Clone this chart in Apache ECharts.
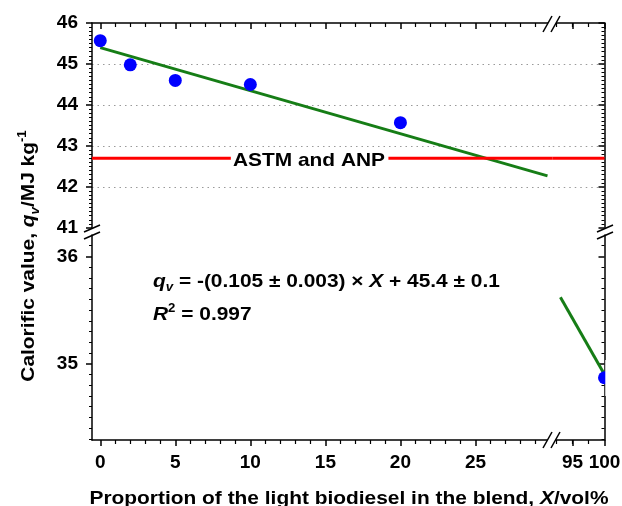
<!DOCTYPE html>
<html>
<head>
<meta charset="utf-8">
<script src="https://cdn.jsdelivr.net/npm/echarts@6/dist/echarts.min.js"></script>
<style>
html, body { margin: 0; padding: 0; background: #fff; }
#chart { width: 622px; height: 506px; }
</style>
</head>
<body>
<div id="chart"></div>
<script>
// measured blends (vol% of light biodiesel) and calorific values
var blendX = [0, 2, 5, 10, 20, 100];
var calorific = [45.57, 44.98, 44.6, 44.5, 43.57, 34.87];
// end points of the linear fit as drawn in each panel
var fitX = [0, 29.8, 93.1, 100];
var fitY = [45.4, 42.27, 35.62, 34.9];
// ASTM / ANP limit and where its label interrupts it
var astmValue = 42.7;
var astmGap = [8.7, 19.2];
// ticks
var xLeftTicks = [0, 5, 10, 15, 20, 25];
var xRightTicks = [95, 100];
var yTopTicks = [41, 42, 43, 44, 45, 46];
var yBottomTicks = [35, 36];
// axis ranges of the broken panels
var xLeftRange = [-0.55, 30.15];
var xRightRange = [91.9, 100];
var yTopRange = [41, 46];
var yBottomRange = [34.29, 36.2];

var FONT = "'Liberation Sans', Arial, sans-serif";
var STRETCH = 1.1;
var chart = echarts.init(document.getElementById('chart'), null, { renderer: 'canvas' });

function xAxisOf(grid, pos, range, ticks, minorSplit, splitNumber) {
    var inside = pos === 'top';
    return {
        type: 'value', gridIndex: grid, position: pos,
        min: range[0], max: range[1], splitNumber: splitNumber,
        axisLine: { show: true, onZero: false, lineStyle: { color: '#000', width: 1.5 } },
        axisTick: { show: true, inside: inside, length: 6, customValues: ticks, lineStyle: { color: '#000', width: 1.5 } },
        minorTick: { show: true, splitNumber: minorSplit, length: 4, lineStyle: { color: '#000', width: 1.2 } },
        axisLabel: {
            show: !inside, customValues: ticks, margin: 13,
            color: '#000', fontSize: 19, fontWeight: 'bold', fontFamily: FONT
        },
        splitLine: { show: false }
    };
}

function yAxisOf(grid, pos, range, ticks, splitNumber) {
    var inside = pos === 'right';
    return {
        type: 'value', gridIndex: grid, position: pos,
        min: range[0], max: range[1], splitNumber: splitNumber,
        axisLine: { show: true, onZero: false, lineStyle: { color: '#000', width: 1.5 } },
        axisTick: { show: true, inside: inside, length: 6, customValues: ticks, lineStyle: { color: '#000', width: 1.5 } },
        minorTick: { show: true, splitNumber: 10, length: 3, lineStyle: { color: '#000', width: 1 } },
        axisLabel: {
            show: !inside, customValues: ticks, margin: 14,
            color: '#000', fontSize: 19, fontWeight: 'bold', fontFamily: FONT
        },
        splitLine: {
            show: true, showMinLine: false, showMaxLine: false,
            lineStyle: { color: '#9a9a9a', width: 1.2, type: [1.5, 4] }
        }
    };
}

function pick(xs, ys, test) {
    var out = [];
    for (var i = 0; i < xs.length; i++) {
        if (test(xs[i], ys[i])) out.push([xs[i], ys[i]]);
    }
    return out;
}

function dots(idx, data) {
    return {
        type: 'scatter', xAxisIndex: idx, yAxisIndex: idx, data: data,
        symbol: 'circle', symbolSize: 13, itemStyle: { color: '#0000ff', opacity: 1 }, z: 5, clip: true
    };
}

function line(idx, data, color, width) {
    return {
        type: 'line', xAxisIndex: idx, yAxisIndex: idx, data: data,
        symbol: 'none', showSymbol: false, clip: true,
        lineStyle: { color: color, width: width }, z: 4
    };
}

// rich text styles shared by the titles and the fit equation
function richStyles(size) {
    var base = { fontSize: size, fontWeight: 'bold', fontFamily: FONT, lineHeight: size + 6, fill: '#000' };
    return {
        b: base,
        i: echarts.util.extend({ fontStyle: 'italic' }, base),
        sub: { fontSize: 12, fontWeight: 'bold', fontStyle: 'italic', fontFamily: FONT, verticalAlign: 'bottom', lineHeight: 12, fill: '#000' },
        sup: { fontSize: 12, fontWeight: 'bold', fontFamily: FONT, verticalAlign: 'top', lineHeight: 12, fill: '#000' }
    };
}

function breakMark(x1, y1, x2, y2) {
    return { type: 'line', shape: { x1: x1, y1: y1, x2: x2, y2: y2 }, style: { stroke: '#000', lineWidth: 1.5 }, z: 12 };
}

// white band between the two strokes of a break mark
function breakGap(points) {
    return { type: 'polygon', shape: { points: points }, style: { fill: '#fff' }, z: 11 };
}

var GREEN = '#167d16';
var RED = '#ff0000';
var topPoint = function (x, y) { return y >= yTopRange[0] && x <= xLeftRange[1]; };
var bottomPoint = function (x, y) { return y <= yBottomRange[1] && x >= xRightRange[0]; };

var option = {
    backgroundColor: '#ffffff',
    animation: false,
    grid: [
        { left: 92, top: 23, width: 460.75, height: 205, containLabel: false, outerBoundsMode: 'none' },
        { left: 552.75, top: 23, width: 51.75, height: 205, containLabel: false, outerBoundsMode: 'none' },
        { left: 92, top: 235, width: 460.75, height: 205, containLabel: false, outerBoundsMode: 'none' },
        { left: 552.75, top: 235, width: 51.75, height: 205, containLabel: false, outerBoundsMode: 'none' }
    ],
    xAxis: [
        xAxisOf(0, 'top', xLeftRange, xLeftTicks, 5, 6),
        xAxisOf(1, 'top', xRightRange, xRightTicks, 4, 1),
        xAxisOf(2, 'bottom', xLeftRange, xLeftTicks, 5, 6),
        xAxisOf(3, 'bottom', xRightRange, xRightTicks, 4, 1)
    ],
    yAxis: [
        yAxisOf(0, 'left', yTopRange, yTopTicks, 5),
        yAxisOf(1, 'right', yTopRange, yTopTicks, 5),
        yAxisOf(2, 'left', yBottomRange, yBottomTicks, 2),
        yAxisOf(3, 'right', yBottomRange, yBottomTicks, 2)
    ],
    series: [
        dots(0, pick(blendX, calorific, topPoint)),
        dots(3, pick(blendX, calorific, bottomPoint)),
        line(0, [[fitX[0], fitY[0]], [fitX[1], fitY[1]]], GREEN, 3),
        line(3, [[fitX[2], fitY[2]], [fitX[3], fitY[3]]], GREEN, 3),
        line(0, [[xLeftRange[0], astmValue], [astmGap[0], astmValue]], RED, 3),
        line(0, [[astmGap[1], astmValue], [xLeftRange[1], astmValue]], RED, 3),
        line(1, [[xRightRange[0], astmValue], [xRightRange[1], astmValue]], RED, 3)
    ],
    graphic: [
        // axis break marks
        breakGap([[543, 32], [552, 16], [560, 16], [551, 32]]),
        breakGap([[543, 448], [552, 432], [560, 432], [551, 448]]),
        breakMark(543, 32, 552, 16), breakMark(551, 32, 560, 16),
        breakMark(543, 448, 552, 432), breakMark(551, 448, 560, 432),
        breakMark(84, 232, 100, 225), breakMark(84, 239, 100, 232),
        breakMark(597, 232, 613, 225), breakMark(597, 239, 613, 232),
        // the last point is cut by the right frame
        { type: 'rect', shape: { x: 605.3, y: 360, width: 16, height: 36 }, style: { fill: '#fff' }, z: 11 },
        {
            type: 'text', x: 309, y: 160.5, scaleX: STRETCH, z: 10,
            style: {
                text: 'ASTM and ANP', align: 'center', verticalAlign: 'middle',
                fill: '#000', font: 'bold 19px ' + FONT
            }
        },
        {
            type: 'text', x: 153, y: 281.5, scaleX: STRETCH, z: 10,
            style: {
                text: '{i|q}{sub|v}{b| = -(0.105 ± 0.003) × }{i|X}{b| + 45.4 ± 0.1}',
                align: 'left', verticalAlign: 'middle', rich: richStyles(19)
            }
        },
        {
            type: 'text', x: 153, y: 315, scaleX: STRETCH, z: 10,
            style: {
                text: '{i|R}{sup|2}{b| = 0.997}',
                align: 'left', verticalAlign: 'middle', rich: richStyles(19)
            }
        },
        {
            type: 'text', x: 29, y: 256, rotation: Math.PI / 2, scaleX: STRETCH, z: 10,
            style: {
                text: '{b|Calorific value, }{i|q}{sub|v}{b|/MJ kg}{sup|-1}',
                align: 'center', verticalAlign: 'middle', rich: richStyles(19)
            }
        },
        {
            type: 'text', x: 349, y: 499, scaleX: STRETCH, z: 10,
            style: {
                text: '{b|Proportion of the light biodiesel in the blend, }{i|X}{b|/vol%}',
                align: 'center', verticalAlign: 'middle', rich: richStyles(19)
            }
        }
    ]
};

chart.setOption(option);
</script>
</body>
</html>
